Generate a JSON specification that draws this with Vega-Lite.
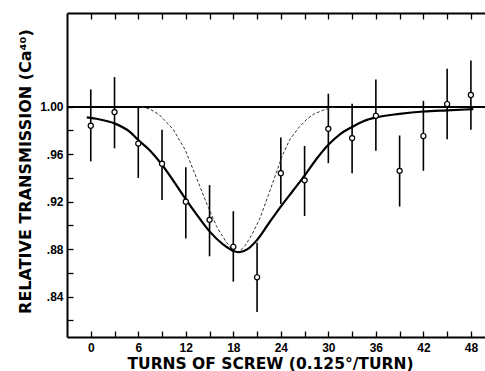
{
  "$schema": "https://vega.github.io/schema/vega-lite/v6.json",
  "width": 418,
  "height": 324,
  "autosize": "none",
  "padding": {"left": 67, "top": 13, "right": 0, "bottom": 34},
  "background": "white",
  "config": {
    "view": {"stroke": null},
    "font": "Liberation Sans",
    "axis": {
      "domainColor": "black", "domainWidth": 2, "tickColor": "black", "tickWidth": 1.3,
      "labelColor": "black", "titleColor": "black", "labelFont": "Liberation Sans",
      "titleFont": "DejaVu Sans", "labelFontWeight": "bold", "titleFontWeight": "bold",
      "grid": false
    }
  },
  "datasets": {
    "pts": [
      {"turns": 0, "t": 0.984, "lo": 0.954, "hi": 1.0146},
      {"turns": 3, "t": 0.9955, "lo": 0.965, "hi": 1.025},
      {"turns": 6, "t": 0.969, "lo": 0.94, "hi": 0.9995},
      {"turns": 9, "t": 0.952, "lo": 0.9215, "hi": 0.9806},
      {"turns": 12, "t": 0.92, "lo": 0.889, "hi": 0.949},
      {"turns": 15, "t": 0.9047, "lo": 0.874, "hi": 0.934},
      {"turns": 18, "t": 0.882, "lo": 0.8526, "hi": 0.912},
      {"turns": 21, "t": 0.8563, "lo": 0.827, "hi": 0.8855},
      {"turns": 24, "t": 0.944, "lo": 0.918, "hi": 0.974},
      {"turns": 27, "t": 0.938, "lo": 0.908, "hi": 0.967},
      {"turns": 30, "t": 0.9814, "lo": 0.9525, "hi": 1.011},
      {"turns": 33, "t": 0.9736, "lo": 0.944, "hi": 1.0025},
      {"turns": 36, "t": 0.9924, "lo": 0.963, "hi": 1.023},
      {"turns": 39, "t": 0.946, "lo": 0.9159, "hi": 0.9758},
      {"turns": 42, "t": 0.9753, "lo": 0.946, "hi": 1.005},
      {"turns": 45, "t": 1.0023, "lo": 0.9727, "hi": 1.032},
      {"turns": 48, "t": 1.0099, "lo": 0.9806, "hi": 1.039}
    ],
    "curves": [
      {"curve": "fit", "turns": -0.5, "t": 0.991},
      {"curve": "fit", "turns": 1, "t": 0.9895},
      {"curve": "fit", "turns": 3, "t": 0.986},
      {"curve": "fit", "turns": 4.9, "t": 0.979},
      {"curve": "fit", "turns": 6, "t": 0.972},
      {"curve": "fit", "turns": 7.5, "t": 0.963},
      {"curve": "fit", "turns": 8.9, "t": 0.952},
      {"curve": "fit", "turns": 10.4, "t": 0.938},
      {"curve": "fit", "turns": 11.9, "t": 0.923},
      {"curve": "fit", "turns": 13.5, "t": 0.908},
      {"curve": "fit", "turns": 15, "t": 0.895},
      {"curve": "fit", "turns": 16.7, "t": 0.884},
      {"curve": "fit", "turns": 18.2, "t": 0.878},
      {"curve": "fit", "turns": 18.8, "t": 0.8775},
      {"curve": "fit", "turns": 19.8, "t": 0.88},
      {"curve": "fit", "turns": 20.9, "t": 0.887},
      {"curve": "fit", "turns": 22.4, "t": 0.901},
      {"curve": "fit", "turns": 23.9, "t": 0.915},
      {"curve": "fit", "turns": 25.5, "t": 0.929},
      {"curve": "fit", "turns": 27, "t": 0.942},
      {"curve": "fit", "turns": 28.5, "t": 0.956},
      {"curve": "fit", "turns": 30, "t": 0.968},
      {"curve": "fit", "turns": 31.5, "t": 0.977},
      {"curve": "fit", "turns": 33, "t": 0.983},
      {"curve": "fit", "turns": 34.5, "t": 0.988},
      {"curve": "fit", "turns": 36, "t": 0.991},
      {"curve": "fit", "turns": 39, "t": 0.994},
      {"curve": "fit", "turns": 42, "t": 0.996},
      {"curve": "fit", "turns": 45, "t": 0.997},
      {"curve": "fit", "turns": 48.3, "t": 0.998},
      {"curve": "ideal", "turns": 6.4, "t": 1.0},
      {"curve": "ideal", "turns": 7.5, "t": 0.998},
      {"curve": "ideal", "turns": 8.7, "t": 0.993},
      {"curve": "ideal", "turns": 10.4, "t": 0.981},
      {"curve": "ideal", "turns": 11.9, "t": 0.964},
      {"curve": "ideal", "turns": 13.3, "t": 0.941},
      {"curve": "ideal", "turns": 14.6, "t": 0.919},
      {"curve": "ideal", "turns": 15.9, "t": 0.899},
      {"curve": "ideal", "turns": 17.1, "t": 0.886},
      {"curve": "ideal", "turns": 18, "t": 0.879},
      {"curve": "ideal", "turns": 18.6, "t": 0.877},
      {"curve": "ideal", "turns": 19.5, "t": 0.883},
      {"curve": "ideal", "turns": 20.4, "t": 0.893},
      {"curve": "ideal", "turns": 21.3, "t": 0.905},
      {"curve": "ideal", "turns": 22.4, "t": 0.925},
      {"curve": "ideal", "turns": 23.4, "t": 0.944},
      {"curve": "ideal", "turns": 24.2, "t": 0.959},
      {"curve": "ideal", "turns": 25.1, "t": 0.972},
      {"curve": "ideal", "turns": 26.2, "t": 0.982},
      {"curve": "ideal", "turns": 27.2, "t": 0.989},
      {"curve": "ideal", "turns": 28.2, "t": 0.994},
      {"curve": "ideal", "turns": 29.3, "t": 0.997},
      {"curve": "ideal", "turns": 30.8, "t": 1.0}
    ]
  },
  "layer": [
    {
      "data": {"name": "pts"},
      "mark": {"type": "rule", "color": "black", "strokeWidth": 1.6},
      "encoding": {
        "x": {
          "field": "turns", "type": "quantitative",
          "scale": {"domain": [-3, 49.78], "nice": false, "zero": false},
          "axis": {
            "orient": "bottom", "values": [0,3,6,9,12,15,18,21,24,27,30,33,36,39,42,45,48],
            "labelExpr": "datum.value % 6 == 0 ? datum.label : ''",
            "tickSize": -6, "labelPadding": 11, "labelFontSize": 12,
            "title": "TURNS OF SCREW (0.125°/TURN)", "titleFontSize": 15.5,
            "titleX": 203, "titleY": 31, "titleBaseline": "alphabetic"
          }
        },
        "y": {
          "field": "lo", "type": "quantitative",
          "scale": {"domain": [0.806, 1.079], "nice": false, "zero": false},
          "axis": {
            "orient": "left", "values": [0.82,0.84,0.86,0.88,0.9,0.92,0.94,0.96,0.98,1.0],
            "labelExpr": "round(datum.value * 100) % 4 == 0 ? (datum.value > 0.999 ? '1.00' : replace(format(datum.value, '.2f'), '0.', '.')) : ''",
            "labelOverlap": false,
            "tickSize": -6, "labelPadding": 10, "labelFontSize": 12,
            "title": "RELATIVE TRANSMISSION (Ca⁴⁰)", "titleFontSize": 16,
            "titleX": -37, "titleY": 158, "titleBaseline": "alphabetic", "titleAngle": -90
          }
        },
        "y2": {"field": "hi"}
      }
    },
    {
      "data": {"name": "pts"},
      "mark": {"type": "rule", "color": "black", "strokeWidth": 1.3},
      "encoding": {
        "y": {"datum": 1.0, "type": "quantitative",
          "scale": {"domain": [0.806, 1.079], "nice": false, "zero": false}, "axis": null}
      }
    },
    {
      "data": {"name": "curves"},
      "transform": [{"filter": "datum.curve == 'ideal'"}],
      "mark": {"type": "line", "color": "#333", "strokeWidth": 1, "strokeDash": [3, 2]},
      "encoding": {
        "x": {"field": "turns", "type": "quantitative",
          "scale": {"domain": [-3, 49.78], "nice": false, "zero": false}, "axis": null},
        "y": {"field": "t", "type": "quantitative",
          "scale": {"domain": [0.806, 1.079], "nice": false, "zero": false}, "axis": null}
      }
    },
    {
      "data": {"name": "curves"},
      "transform": [{"filter": "datum.curve == 'fit'"}],
      "mark": {"type": "line", "color": "black", "strokeWidth": 2.2, "interpolate": "monotone"},
      "encoding": {
        "x": {"field": "turns", "type": "quantitative",
          "scale": {"domain": [-3, 49.78], "nice": false, "zero": false}, "axis": null},
        "y": {"field": "t", "type": "quantitative",
          "scale": {"domain": [0.806, 1.079], "nice": false, "zero": false}, "axis": null}
      }
    },
    {
      "data": {"name": "pts"},
      "mark": {"type": "point", "shape": "circle", "filled": true, "fill": "white", "stroke": "black", "strokeWidth": 1.2, "size": 26, "opacity": 1},
      "encoding": {
        "x": {"field": "turns", "type": "quantitative",
          "scale": {"domain": [-3, 49.78], "nice": false, "zero": false},
          "axis": {"orient": "top", "values": [0,3,6,9,12,15,18,21,24,27,30,33,36,39,42,45,48],
            "labels": false, "tickSize": -6, "title": null}},
        "y": {"field": "t", "type": "quantitative",
          "scale": {"domain": [0.806, 1.079], "nice": false, "zero": false}, "axis": null}
      }
    }
  ],
  "resolve": {"axis": {"x": "independent", "y": "independent"}}
}
